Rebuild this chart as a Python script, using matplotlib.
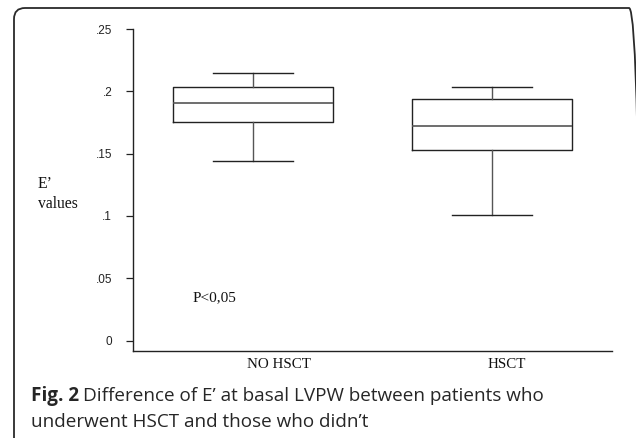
import matplotlib
matplotlib.use("Agg")
import matplotlib.pyplot as plt
import matplotlib.transforms as mtransforms
from matplotlib.patches import FancyBboxPatch

categories = ["NO HSCT", "HSCT"]
whisker_low = [0.1444, 0.1006]
q1 = [0.1752, 0.1527]
median = [0.1904, 0.1722]
q3 = [0.2032, 0.1936]
whisker_high = [0.2145, 0.2032]
ytick_values = [0, 0.05, 0.1, 0.15, 0.2, 0.25]
ytick_labels = ["0", ".05", ".1", ".15", ".2", ".25"]
p_text = "P<0,05"
y_label_lines = ["E\u2019", "values"]
caption_bold = "Fig. 2"
caption_line1 = "Difference of E\u2019 at basal LVPW between patients who"
caption_line2 = "underwent HSCT and those who didn\u2019t"

W, H = 636, 438
DPI = 100
fig = plt.figure(figsize=(W / DPI, H / DPI), dpi=DPI)

# rounded frame (inches)
frame = FancyBboxPatch((0.14, -0.6), 6.26, (H - 8) / DPI + 0.6,
                       boxstyle="round,pad=0,rounding_size=0.11",
                       transform=fig.dpi_scale_trans, fill=False,
                       edgecolor="#2a2a2a", linewidth=1.3, clip_on=False)
fig.patches.append(frame)

ax = fig.add_axes([133 / W, 1 - 351 / H, (612 - 133) / W, (351 - 29) / H])

stats = []
for i, c in enumerate(categories):
    stats.append(dict(label=c, whislo=whisker_low[i], q1=q1[i], med=median[i],
                      q3=q3[i], whishi=whisker_high[i], fliers=[]))
ax.bxp(stats, positions=[1, 2], widths=0.67, showfliers=False,
       boxprops=dict(color="#222222", linewidth=1.0),
       medianprops=dict(color="#555555", linewidth=1.2),
       whiskerprops=dict(color="#555555", linewidth=1.0),
       capprops=dict(color="#222222", linewidth=1.0),
       capwidths=0.335)

ymin = -0.0083
ax.set_xlim(0.5, 2.5)
ax.set_ylim(ymin, 0.25)
ax.spines["top"].set_visible(False)
ax.spines["right"].set_visible(False)
for s in ["left", "bottom"]:
    ax.spines[s].set_linewidth(1.0)
    ax.spines[s].set_color("#222222")

ax.set_yticks(ytick_values)
ax.set_yticklabels(ytick_labels, fontfamily="Liberation Sans", fontsize=8.5,
                   color="#222222")
ax.tick_params(axis="y", length=5, width=0.9, color="#222222", pad=10)
ax.set_xticks([])

label_offsets = [0.11, 0.06]
down = ax.transData + mtransforms.ScaledTranslation(0, -7 / DPI, fig.dpi_scale_trans)
for i, c in enumerate(categories):
    ax.text(i + 1 + label_offsets[i], ymin, c, transform=down,
            ha="center", va="top", fontfamily="Liberation Serif", fontsize=10.8,
            color="#111111")

ax.text(0.75, 0.0345, p_text, fontfamily="Liberation Serif", fontsize=11,
        color="#111111", ha="left", va="center")

fig.text(38 / W, 1 - 184 / H, y_label_lines[0], fontfamily="Liberation Serif",
         fontsize=11.3, color="#111111", ha="left", va="center")
fig.text(38 / W, 1 - 204 / H, y_label_lines[1], fontfamily="Liberation Serif",
         fontsize=11.3, color="#111111", ha="left", va="center")

cap_fs = 13.6
cap_color = "#262626"
tb = fig.text(31 / W, 1 - 396 / H, caption_bold, fontfamily="Open Sans",
              fontweight="bold", fontsize=cap_fs, color=cap_color,
              ha="left", va="center")
fig.canvas.draw()
bb = tb.get_window_extent()
fig.text((bb.x1 + 4) / W, 1 - 396 / H, caption_line1, fontfamily="Open Sans",
         fontsize=cap_fs, color=cap_color, ha="left", va="center")
fig.text(31 / W, 1 - 422 / H, caption_line2, fontfamily="Open Sans",
         fontsize=cap_fs, color=cap_color, ha="left", va="center")

fig.savefig("out.png", dpi=DPI)
